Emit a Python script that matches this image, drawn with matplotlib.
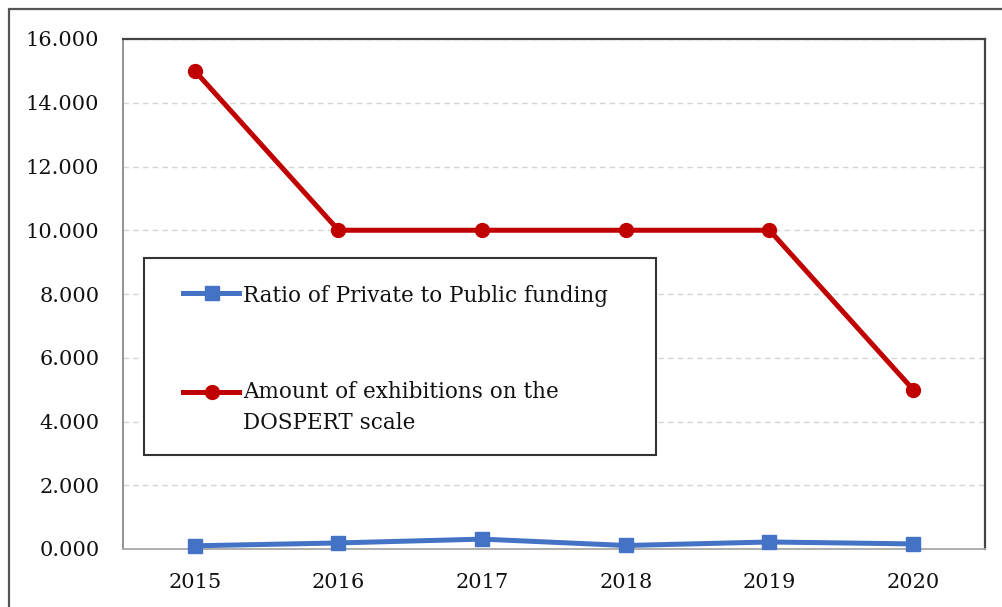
import matplotlib
matplotlib.use("Agg")
import matplotlib.pyplot as plt
from matplotlib.lines import Line2D
from matplotlib.patches import Rectangle
from matplotlib.ticker import FuncFormatter, MultipleLocator

years = ["2015", "2016", "2017", "2018", "2019", "2020"]
ratio_private_public = [0.10, 0.19, 0.31, 0.11, 0.22, 0.16]
exhibitions_dospert = [15, 10, 10, 10, 10, 5]

series_labels = [
    "Ratio of Private to Public funding",
    "Amount of exhibitions on the\nDOSPERT scale",
]

BLUE = "#4472C4"
RED = "#C00000"
LW = 3.6

plt.rcParams["font.family"] = ["DejaVu Serif"]

W, H = 1003, 607
fig = plt.figure(figsize=(W / 100, H / 100), dpi=100)

# outer chart-area border (only left and top edges fall inside the canvas)
fig.patches.append(Rectangle((9 / W, -0.05), 1.2, (H - 9) / H + 0.05,
                             transform=fig.transFigure, fill=False,
                             edgecolor="#555555", linewidth=1.6))

ax = fig.add_axes([123 / W, (H - 549) / H, (985 - 123) / W, (549 - 39) / H])

x = list(range(len(years)))
ax.plot(x, ratio_private_public, color=BLUE, linewidth=LW, marker="s",
        markersize=9.5, solid_joinstyle="round", zorder=4, clip_on=False)
ax.plot(x, exhibitions_dospert, color=RED, linewidth=LW, marker="o",
        markersize=10, solid_joinstyle="round", zorder=4)

ax.set_xlim(-0.5, len(years) - 0.5)
ax.set_ylim(0, 16)
ax.set_xticks(x)
ax.set_xticklabels(years)
ax.yaxis.set_major_locator(MultipleLocator(2))
ax.yaxis.set_major_formatter(FuncFormatter(lambda v, _: f"{v:.3f}"))
ax.tick_params(axis="both", length=0, labelsize=15, colors="#111111")
ax.tick_params(axis="y", pad=17)
ax.tick_params(axis="x", pad=17)

ax.grid(axis="y", color="#d4d4d4", linestyle=(0, (4, 3)), linewidth=1.0)
ax.set_axisbelow(True)

ax.spines["top"].set_color("#444444")
ax.spines["right"].set_color("#444444")
ax.spines["top"].set_linewidth(1.6)
ax.spines["right"].set_linewidth(1.6)
ax.spines["left"].set_color("#8a8a8a")
ax.spines["left"].set_linewidth(1.3)
ax.spines["bottom"].set_color("#a8a8a8")
ax.spines["bottom"].set_linewidth(1.3)

# legend box drawn in axes coordinates
def px_x(px):
    return (px - 123) / (985 - 123)

def px_y(py):
    return (549 - py) / (549 - 39)

ax.add_patch(Rectangle((px_x(144), px_y(455)), px_x(656) - px_x(144),
                       px_y(258) - px_y(455), transform=ax.transAxes,
                       facecolor="white", edgecolor="#333333",
                       linewidth=1.5, zorder=6))

legend_rows = [
    (BLUE, "s", 9.5, 293, 285, series_labels[0]),
    (RED, "o", 10, 392, 381, series_labels[1]),
]
for color, marker, ms, ypx, ytext, label in legend_rows:
    ax.add_line(Line2D([px_x(183), px_x(239)], [px_y(ypx)] * 2,
                       transform=ax.transAxes, color=color, linewidth=LW,
                       zorder=7))
    ax.add_line(Line2D([px_x(212)], [px_y(ypx)], transform=ax.transAxes,
                       color=color, marker=marker, markersize=ms, zorder=8))
    ax.text(px_x(243), px_y(ytext), label, transform=ax.transAxes,
            ha="left", va="top", fontsize=15.5, color="#111111",
            linespacing=1.52, zorder=8)

fig.savefig("out.png", dpi=100)
